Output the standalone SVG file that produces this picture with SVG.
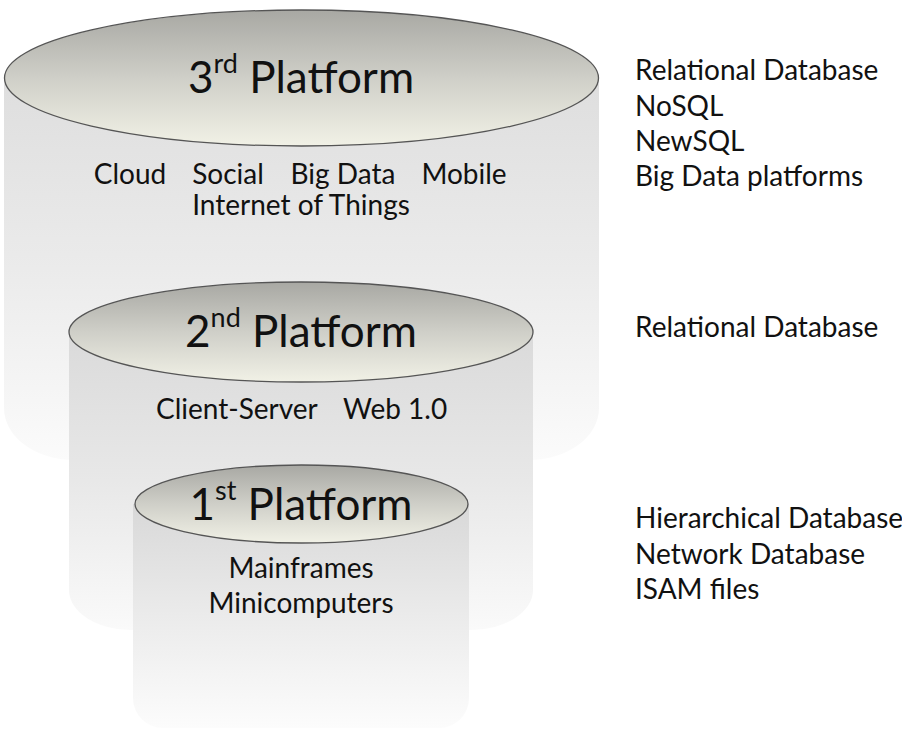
<svg xmlns="http://www.w3.org/2000/svg" width="902" height="730" viewBox="0 0 902 730">
<defs>
<linearGradient id="topG" x1="0" y1="0" x2="0" y2="1">
<stop offset="0" stop-color="#a8a8a3"/>
<stop offset="0.5" stop-color="#cfcfc8"/>
<stop offset="1" stop-color="#f1f1e6"/>
</linearGradient>
<linearGradient id="bodyL" gradientUnits="userSpaceOnUse" x1="0" y1="78" x2="0" y2="460">
<stop offset="0" stop-color="#dedede"/>
<stop offset="0.5" stop-color="#ebebeb"/>
<stop offset="1" stop-color="#fbfbfb"/>
</linearGradient>
<linearGradient id="bodyM" gradientUnits="userSpaceOnUse" x1="0" y1="332" x2="0" y2="630">
<stop offset="0" stop-color="#dadada"/>
<stop offset="0.5" stop-color="#e8e8e8"/>
<stop offset="1" stop-color="#fafafa"/>
</linearGradient>
<linearGradient id="bodyS" gradientUnits="userSpaceOnUse" x1="0" y1="504" x2="0" y2="728">
<stop offset="0" stop-color="#d8d8d8"/>
<stop offset="0.5" stop-color="#ebebeb"/>
<stop offset="1" stop-color="#fcfcfc"/>
</linearGradient>
</defs>
<style>
.top{fill:url(#topG);stroke:#555;stroke-width:1.3}
text{font-family:Lato,"Open Sans",sans-serif;fill:#111}
.title{font-size:44px;text-anchor:middle}
.sup{font-size:27px}
.lbl{font-size:28px;text-anchor:middle}
.lbs{font-size:28px}
.side{font-size:28px}
</style>
<rect width="902" height="730" fill="#fff"/>
<g id="platform3">
<path d="M4,78 V408 A70,52 0 0 0 74,460 H529 A70,52 0 0 0 599,408 V78 Z" fill="url(#bodyL)"/>
<ellipse class="top" cx="301.5" cy="78" rx="297" ry="68"/>
<text class="title" x="301" y="93">3<tspan class="sup" dy="-20">rd</tspan><tspan dy="20"> Platform</tspan></text>
<text class="lbl" x="130" y="184">Cloud</text>
<text class="lbl" x="228" y="184">Social</text>
<text class="lbl" x="343" y="184">Big Data</text>
<text class="lbl" x="464" y="184">Mobile</text>
<text class="lbl" x="301" y="215">Internet of Things</text>
</g>
<g id="platform2">
<path d="M69,332 V590 A62,40 0 0 0 131,630 H471 A62,40 0 0 0 533,590 V332 Z" fill="url(#bodyM)"/>
<ellipse class="top" cx="301" cy="332" rx="232" ry="50"/>
<text class="title" x="301" y="347">2<tspan class="sup" dy="-20">nd</tspan><tspan dy="20"> Platform</tspan></text>
<text class="lbs" x="156" y="419">Client-Server</text>
<text class="lbs" x="343" y="419">Web 1.0</text>
</g>
<g id="platform1">
<path d="M133,504 V698 A30,30 0 0 0 163,728 H439 A30,30 0 0 0 469,698 V504 Z" fill="url(#bodyS)"/>
<ellipse class="top" cx="301.5" cy="504" rx="166.5" ry="39"/>
<text class="title" x="301" y="520">1<tspan class="sup" dy="-20">st</tspan><tspan dy="20"> Platform</tspan></text>
<text class="lbl" x="301" y="578">Mainframes</text>
<text class="lbl" x="301" y="613">Minicomputers</text>
</g>
<g id="dbs3">
<text class="side" x="635" y="80">Relational Database</text>
<text class="side" x="635" y="115.5">NoSQL</text>
<text class="side" x="635" y="151">NewSQL</text>
<text class="side" x="635" y="186">Big Data platforms</text>
</g>
<g id="dbs2">
<text class="side" x="635" y="337">Relational Database</text>
</g>
<g id="dbs1">
<text class="side" x="635" y="528">Hierarchical Database</text>
<text class="side" x="635" y="563.5">Network Database</text>
<text class="side" x="635" y="599">ISAM files</text>
</g>
</svg>
